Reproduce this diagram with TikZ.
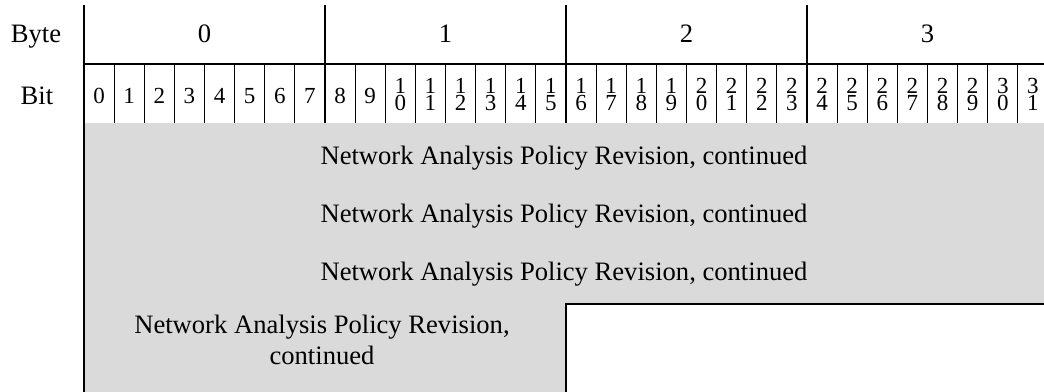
\documentclass[tikz,border=0pt]{standalone}
\usepackage{fontspec}
\setmainfont{Liberation Serif}
\definecolor{fieldgray}{RGB}{218,218,218}
\begin{document}
\begin{tikzpicture}[x=1pt,y=-1pt,
  thickline/.style={line width=2pt},
  thinline/.style={line width=0.9pt},
  lbl/.style={font=\fontsize{26.6}{30}\selectfont, inner sep=0pt, anchor=base},
  bitnum/.style={font=\fontsize{23}{23}\selectfont, inner sep=0pt, anchor=base},
  ]
\useasboundingbox (0,0) rectangle (1044,391);
% field area
\fill[fieldgray] (85,123) rectangle (1050,395);
\fill[white] (566,304) rectangle (1050,395);
\draw[thickline] (566,400) -- (566,304) -- (1050,304);
% header grid
\draw[thickline] (84,5) -- (84,395);
\draw[thickline] (84,64) -- (1050,64);
\foreach \k in {8,16,24}{
  \draw[thickline] ({84+\k*30.125},5) -- ({84+\k*30.125},123);
}
\foreach \k in {1,...,31}{
  \pgfmathtruncatemacro{\m}{mod(\k,8)}
  \ifnum\m>0
    \draw[thinline] ({84+\k*30.125},64) -- ({84+\k*30.125},123);
  \fi
}
% labels
\node[lbl] (bytelbl) at (36,42) {Byte};
\node[lbl] (bitlbl) at (37,104) {Bit};
\foreach \j in {0,...,3}{
  \node[lbl] (byte\j) at ({84+(4+8*\j)*30.125},42) {\j};
}
\foreach \i in {0,...,31}{
  \pgfmathsetmacro{\cx}{84+(\i+0.5)*30.125}
  \ifnum\i<10
    \node[bitnum] (bit\i) at (\cx,103) {\i};
  \else
    \pgfmathtruncatemacro{\tens}{int(\i/10)}
    \pgfmathtruncatemacro{\ones}{\i-10*\tens}
    \node[bitnum] (bit\i t) at (\cx,93) {\tens};
    \node[bitnum] (bit\i o) at (\cx,110) {\ones};
  \fi
}
% field texts
\node[lbl] (row1) at (564,164) {Network Analysis Policy Revision, continued};
\node[lbl] (row2) at (564,222) {Network Analysis Policy Revision, continued};
\node[lbl] (row3) at (564,280) {Network Analysis Policy Revision, continued};
\node[lbl] (row4a) at (322,333) {Network Analysis Policy Revision,};
\node[lbl] (row4b) at (322,364) {continued};
\end{tikzpicture}
\end{document}
